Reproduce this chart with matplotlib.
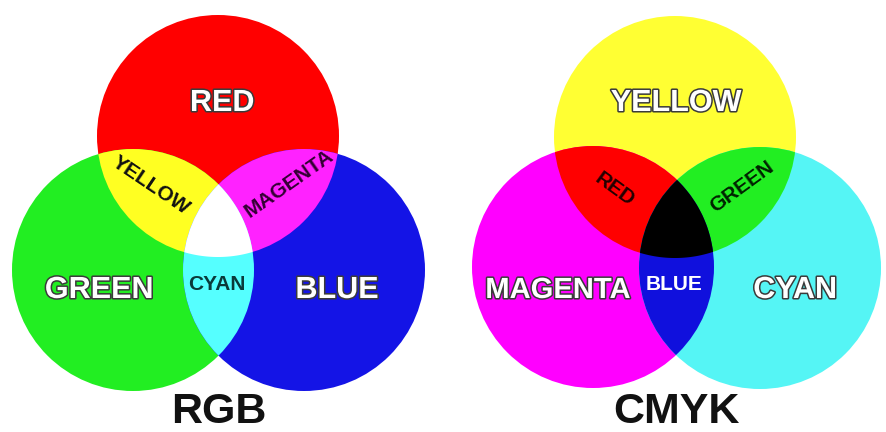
"""RGB additive vs CMYK subtractive colour-mixing diagrams."""

import matplotlib

matplotlib.use("Agg")
import matplotlib.pyplot as plt  # noqa: E402
import matplotlib.patheffects as pe  # noqa: E402
import numpy as np  # noqa: E402
from matplotlib.patches import Circle, Polygon  # noqa: E402

plt.rcParams["font.family"] = ["Liberation Sans", "DejaVu Sans"]

RADIUS = 121

# circle centres in pixel coords (y downwards)
rgb_names = ["RED", "GREEN", "BLUE"]
rgb_centers = [(218, 136), (133, 270), (304, 270)]
rgb_colors = ["#ff0000", "#22ee22", "#1414e6"]
rgb_pair_colors = ["#ffff22", "#ff22ff", "#55ffff"]  # R+G, R+B, G+B
rgb_triple = "#ffffff"

cmyk_names = ["YELLOW", "MAGENTA", "CYAN"]
cmyk_centers = [(675, 137), (593, 267), (760, 268)]
cmyk_colors = ["#ffff33", "#ff00ff", "#55f5f5"]
cmyk_pair_colors = ["#ff0000", "#22ee22", "#1010dd"]  # Y+M, Y+C, M+C
cmyk_triple = "#000000"

OUTLINE = [pe.withStroke(linewidth=2.2, foreground="#3a3a3a")]


def lens(c1, c2, r, n=1440):
    """Polygon of the overlap of two equal circles."""
    t = np.linspace(0, 2 * np.pi, n, endpoint=False)
    ring = np.column_stack([np.cos(t), np.sin(t)]) * r
    p1 = np.asarray(c1) + ring
    p2 = np.asarray(c2) + ring
    p1 = p1[np.hypot(*(p1 - c2).T) <= r]
    p2 = p2[np.hypot(*(p2 - c1).T) <= r]
    pts = np.vstack([p1, p2])
    mid = pts.mean(axis=0)
    order = np.argsort(np.arctan2(pts[:, 1] - mid[1], pts[:, 0] - mid[0]))
    return pts[order]


def draw_venn(ax, centers, colors, pair_colors, triple):
    a, b, c = centers
    for cen, col in zip(centers, colors):
        ax.add_patch(Circle(cen, RADIUS, color=col, lw=0))
    pairs = [(a, b, c), (a, c, b), (b, c, a)]
    for (p, q, _), col in zip(pairs, pair_colors):
        patch = Circle(q, RADIUS, color=col, lw=0)
        ax.add_patch(patch)
        patch.set_clip_path(Circle(p, RADIUS, transform=ax.transData))
    tri = Polygon(lens(a, b, RADIUS), closed=True, color=triple, lw=0)
    ax.add_patch(tri)
    tri.set_clip_path(Circle(c, RADIUS, transform=ax.transData))


fig = plt.figure(figsize=(8.86, 4.32), dpi=100)
ax = fig.add_axes([0, 0, 1, 1])
ax.set_xlim(0, 886)
ax.set_ylim(432, 0)
ax.set_aspect("equal")
ax.axis("off")

draw_venn(ax, rgb_centers, rgb_colors, rgb_pair_colors, rgb_triple)
draw_venn(ax, cmyk_centers, cmyk_colors, cmyk_pair_colors, cmyk_triple)

big = dict(fontsize=22, fontweight="bold", ha="center", va="center",
           color="white", path_effects=OUTLINE)
small = dict(fontsize=15, fontweight="bold", ha="center", va="center")
title = dict(fontsize=31, fontweight="bold", ha="center", va="center",
             color="#111111")

# RGB labels
ax.text(222, 103, "RED", **big)
ax.text(99, 290, "GREEN", **big)
ax.text(337, 290, "BLUE", **big)
ax.text(151, 185, "YELLOW", rotation=-34, color="#111111", **small)
ax.text(289, 184, "MAGENTA", rotation=35, color="#330033", **small)
ax.text(217, 284, "CYAN", color="#0a3a3a", **small)
ax.text(219, 412, "RGB", **title)

# CMYK labels
ax.text(676, 103, "YELLOW", **big)
ax.text(558, 290, "MAGENTA", fontsize=21, fontweight="bold", ha="center",
        va="center", color="white", path_effects=OUTLINE)
ax.text(795, 290, "CYAN", **big)
ax.text(615, 189, "RED", rotation=-36, color="#220000", **small)
ax.text(742, 187, "GREEN", rotation=36, color="#002200", **small)
ax.text(674, 284, "BLUE", color="white", **small)
ax.text(676, 412, "CMYK", **title)

fig.savefig("out.png", dpi=100)
